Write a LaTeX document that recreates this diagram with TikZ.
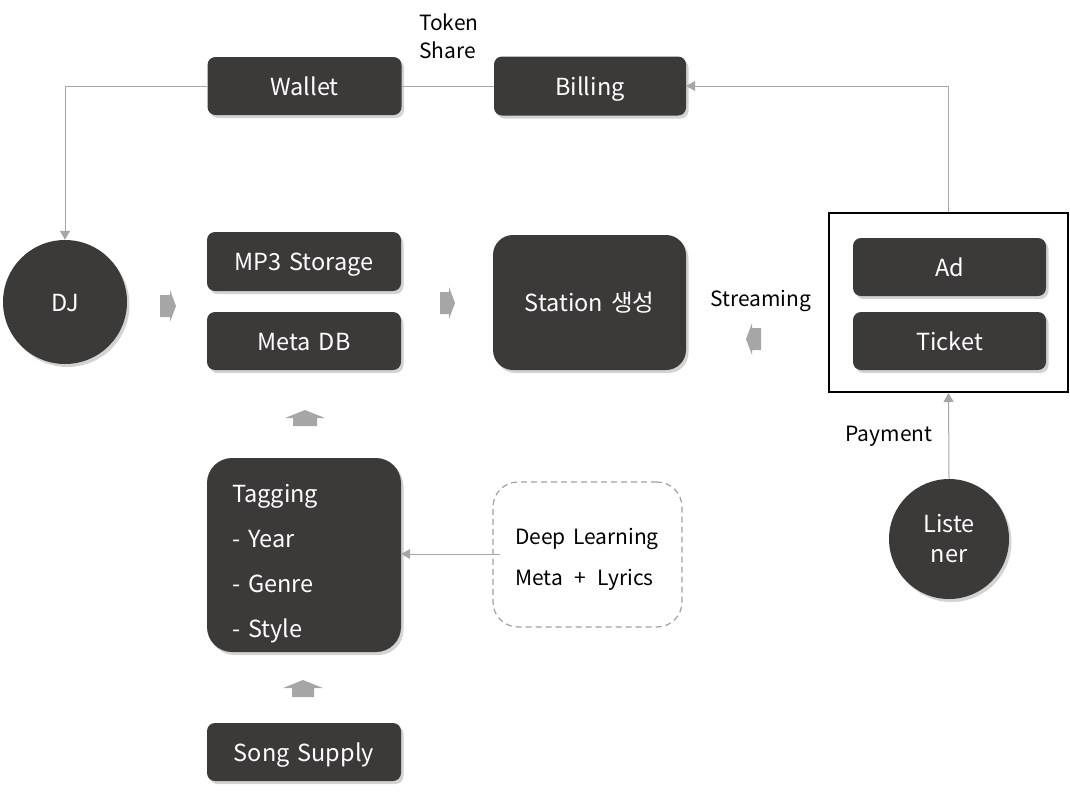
\documentclass[tikz,border=0pt]{standalone}
\usepackage{fontspec}
\setmainfont{Noto Sans CJK KR}[WordSpace=1.5]
\usetikzlibrary{shadows,arrows.meta}
\definecolor{boxdark}{HTML}{3B3A39}
\definecolor{linegray}{HTML}{A6A6A6}
\definecolor{dashgray}{HTML}{A0A0A0}
\tikzset{
  dbox/.style={fill=boxdark, text=white, rounded corners=8pt, minimum width=194pt, minimum height=58pt,
    inner sep=0pt, text height=18pt, text depth=0pt, font=\fontsize{23.5}{28}\selectfont,
    drop shadow={opacity=0.35, shadow xshift=2.5pt, shadow yshift=-3pt}},
  dcirc/.style={circle, fill=boxdark, text=white, inner sep=0pt, font=\fontsize{23.5}{28}\selectfont,
    drop shadow={opacity=0.35, shadow xshift=2.5pt, shadow yshift=-3pt}},
  conn/.style={draw=linegray, line width=1pt},
  tip/.style={-{Triangle[length=9pt,width=10pt]}},
  lbl/.style={font=\fontsize{21}{28}\selectfont, inner sep=0pt},
  blockarrow/.style={fill=linegray},
}
\begin{document}
\begin{tikzpicture}[x=1pt,y=-1pt]
\useasboundingbox (0,0) rectangle (1070,796);
% boxes
\node[dbox] (wallet) at (304.5,86) {Wallet};
\node[dbox, minimum width=192pt, minimum height=59pt] (billing) at (590,86) {Billing};
\node[dbox, minimum height=59pt] (mp3) at (304,261.5) {MP3 Storage};
\node[dbox] (metadb) at (304,341) {Meta DB};
\node[dbox, minimum width=193pt, minimum height=135pt, rounded corners=20pt] (station) at (589.5,302.5) {Station 생성};
\node[draw=black, line width=2pt, minimum width=239pt, minimum height=179pt, inner sep=0pt] (outer) at (948.5,302.5) {};
\node[dbox, minimum width=193pt] (ad) at (949.5,267) {Ad};
\node[dbox, minimum width=193pt] (ticket) at (949.5,341) {Ticket};
\node[dbox, minimum height=194pt, rounded corners=25pt] (tagging) at (304,555) {};
\node[anchor=west, align=left, text=white, inner sep=0pt, font=\fontsize{23.5}{45}\selectfont] (tagtext) at (232,564) {Tagging\\- Year\\- Genre\\- Style};
\node[draw=dashgray, dashed, line width=1.2pt, dash pattern=on 6pt off 4pt, rounded corners=25pt, minimum width=189pt, minimum height=145pt] (deep) at (587.5,554.5) {};
\node[anchor=west, align=left, inner sep=0pt, font=\fontsize{21}{41}\selectfont] (deeptext) at (515,559.5) {Deep Learning\\Meta\hspace{5pt} + \hspace{4pt}Lyrics};
\node[dbox] (song) at (304,752) {Song Supply};
\node[dcirc, minimum size=124pt, text height=18pt, text depth=0pt] (dj) at (65,302) {DJ};
\node[dcirc, minimum size=120pt, align=center, font=\fontsize{23.5}{30}\selectfont] (listener) at (949,539) {Liste\\ner};
% labels
\node[lbl, align=left, anchor=west] (token) at (419,36) {Token\\Share};
\node[lbl] (streaming) at (761,301) {Streaming};
\node[lbl] (payment) at (889,436) {Payment};
% connectors
\draw[conn, tip] (wallet.west) -| (dj.north);
\draw[conn] (wallet.east) -- (billing.west);
\draw[conn, tip] (outer.north) |- (billing.east);
\draw[conn, tip] (listener.north) -- (outer.south);
\coordinate (deepstart) at (500,554);
\draw[conn, tip] (deepstart) -- (tagging.east |- deepstart);
% block arrows
\fill[blockarrow] (160,295) -- (170,295) -- (170,290) -- (176,306) -- (170,322) -- (170,317) -- (160,317) -- cycle;
\fill[blockarrow] (440,292) -- (449,292) -- (449,287) -- (455,303) -- (449,319) -- (449,314) -- (440,314) -- cycle;
\fill[blockarrow] (761,328) -- (752,328) -- (752,323) -- (746,339) -- (752,355) -- (752,350) -- (761,350) -- cycle;
\fill[blockarrow] (293,426) -- (293,418) -- (285,418) -- (305,410) -- (325,418) -- (317,418) -- (317,426) -- cycle;
\fill[blockarrow] (292,697) -- (292,688) -- (283,688) -- (303,680) -- (323,688) -- (314,688) -- (314,697) -- cycle;
\end{tikzpicture}
\end{document}
